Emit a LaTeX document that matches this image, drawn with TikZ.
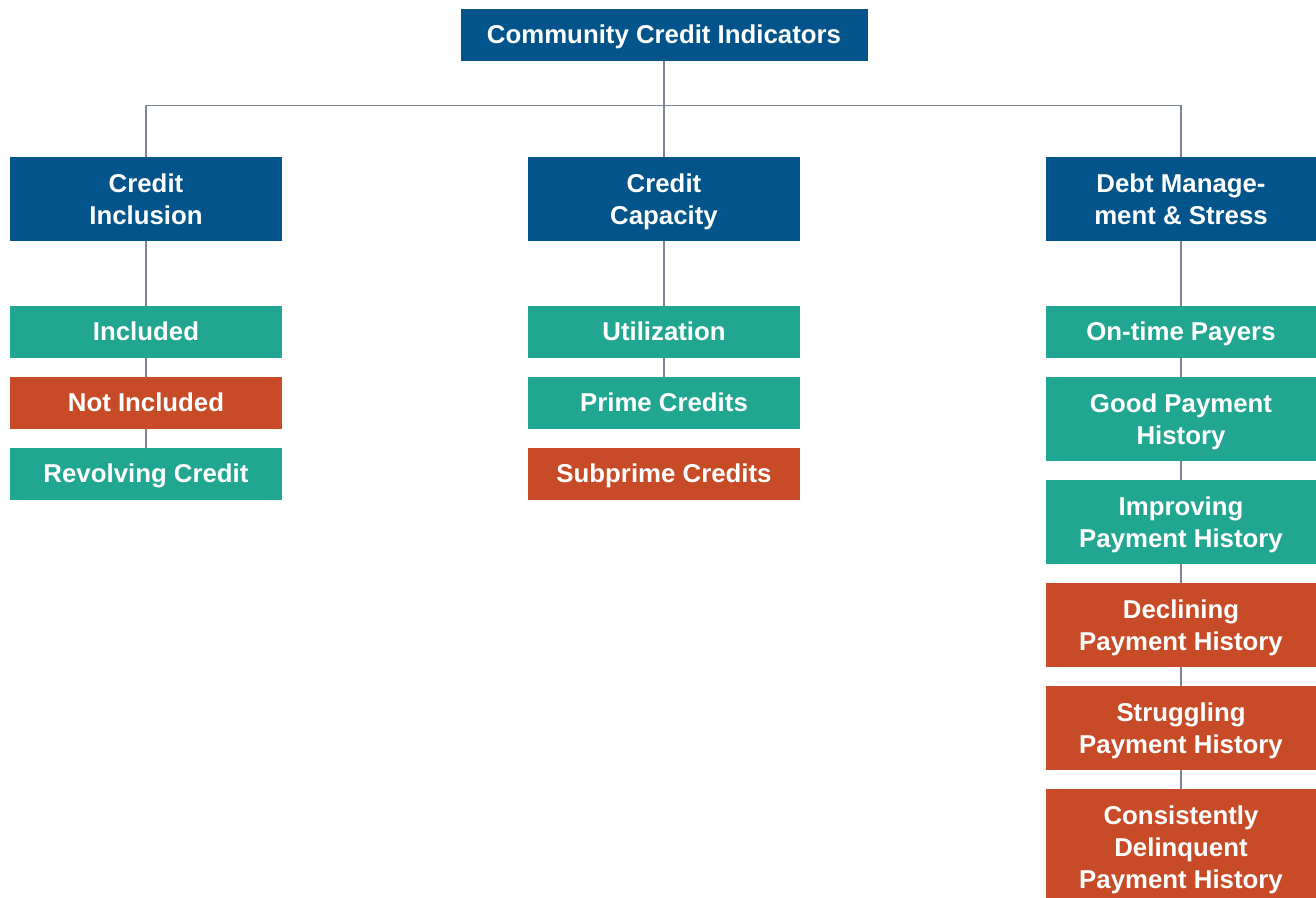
\documentclass[tikz,border=0pt]{standalone}
\usepackage{fontspec}
\setmainfont{Liberation Sans}
\definecolor{cblue}{HTML}{02548A}
\definecolor{cteal}{HTML}{21A691}
\definecolor{corange}{HTML}{C84B27}
\definecolor{cline}{HTML}{7E8694}
\tikzset{
  box/.style={rectangle, inner sep=0pt, text=white, align=center,
    font=\fontsize{25.8}{32}\selectfont\bfseries, minimum width=272pt,
    text height=24.5pt, text depth=7.5pt},
  twoline/.style={text height=58.1pt},
  threeline/.style={text height=90.1pt},
  hdr/.style={box, twoline, fill=cblue, minimum height=84pt},
  one/.style={box, minimum height=52pt},
  two/.style={box, twoline, minimum height=84pt},
  good/.style={fill=cteal},
  bad/.style={fill=corange},
  conn/.style={draw=cline, line width=1.7pt},
}
\begin{document}
\begin{tikzpicture}[x=1pt,y=-1pt]
\clip (0,0) rectangle (1316,897);
\fill[white] (0,0) rectangle (1316,897);
\coordinate (bus) at (0,105.5);
% top
\node[box, fill=cblue, minimum width=407pt, minimum height=52pt] (top) at (664,35) {Community Credit Indicators};
% level 2
\node[hdr] (L) at (146,199) {Credit\\Inclusion};
\node[hdr] (C) at (664,199) {Credit\\Capacity};
\node[hdr, minimum width=270pt] (R) at (1181,199) {Debt Manage-\\ment \& Stress};
% left column
\node[one, good] (L1) at (146,332) {Included};
\node[one, bad] (L2) at (146,403) {Not Included};
\node[one, good] (L3) at (146,474) {Revolving Credit};
% center column
\node[one, good] (C1) at (664,332) {Utilization};
\node[one, good] (C2) at (664,403) {Prime Credits};
\node[one, bad] (C3) at (664,474) {Subprime Credits};
% right column
\node[one, good, minimum width=270pt] (R1) at (1181,332) {On-time Payers};
\node[two, good, minimum width=270pt] (R2) at (1181,419) {Good Payment\\History};
\node[two, good, minimum width=270pt] (R3) at (1181,522) {Improving\\Payment History};
\node[two, bad, minimum width=270pt] (R4) at (1181,625) {Declining\\Payment History};
\node[two, bad, minimum width=270pt] (R5) at (1181,728) {Struggling\\Payment History};
\node[box, threeline, bad, minimum width=270pt, minimum height=116pt] (R6) at (1181,847) {Consistently\\Delinquent\\Payment History};
% connectors
\draw[conn] (top.south) -- (C.north);
\draw[conn] (L.north) -- (L.north |- bus) -- (R.north |- bus) -- (R.north);
\draw[conn] (L.south) -- (L1.north);
\draw[conn] (L1.south) -- (L2.north);
\draw[conn] (L2.south) -- (L3.north);
\draw[conn] (C.south) -- (C1.north);
\draw[conn] (C1.south) -- (C2.north);
\draw[conn] (R.south) -- (R1.north);
\draw[conn] (R1.south) -- (R2.north);
\draw[conn] (R2.south) -- (R3.north);
\draw[conn] (R3.south) -- (R4.north);
\draw[conn] (R4.south) -- (R5.north);
\draw[conn] (R5.south) -- (R6.north);
\end{tikzpicture}
\end{document}
